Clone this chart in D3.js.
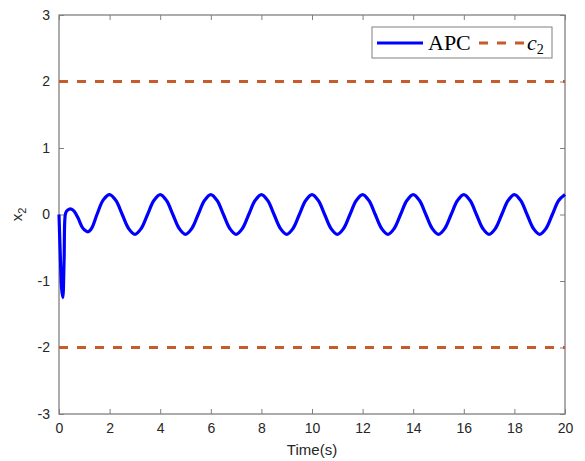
<!DOCTYPE html>
<html>
<head>
<meta charset="utf-8">
<script src="https://d3js.org/d3.v7.min.js"></script>
<style>
  body { margin: 0; background: #fff; }
  svg { display: block; }
  .tick text { font-family: Arial, "Liberation Sans", sans-serif; font-size: 14px; fill: #262626; }
</style>
</head>
<body>
<div id="chart"></div>
<script>
// values
var xTicks = [0, 2, 4, 6, 8, 10, 12, 14, 16, 18, 20];
var yTicks = [-3, -2, -1, 0, 1, 2, 3];
var boundUpper = 2, boundLower = -2;

// APC response, start-up transient
var tStart = [0, 0.05, 0.1, 0.15, 0.2, 0.25, 0.3, 0.4, 0.5, 0.6, 0.75, 0.9, 1.0, 1.15, 1.3, 1.5, 1.75, 2.0];
var xStart = [0, -0.6, -1.1, -1.25, -0.7, 0.0, 0.05, 0.08, 0.08, 0.05, -0.05, -0.18, -0.23, -0.26, -0.2, 0.0, 0.22, 0.3];

// APC response, steady oscillation (every 0.25 s from 2.25 to 20)
var tSteady = [2.25, 2.5, 2.75, 3.0, 3.25, 3.5, 3.75, 4.0, 4.25, 4.5, 4.75, 5.0, 5.25, 5.5, 5.75, 6.0,
  6.25, 6.5, 6.75, 7.0, 7.25, 7.5, 7.75, 8.0, 8.25, 8.5, 8.75, 9.0, 9.25, 9.5, 9.75, 10.0,
  10.25, 10.5, 10.75, 11.0, 11.25, 11.5, 11.75, 12.0, 12.25, 12.5, 12.75, 13.0, 13.25, 13.5, 13.75, 14.0,
  14.25, 14.5, 14.75, 15.0, 15.25, 15.5, 15.75, 16.0, 16.25, 16.5, 16.75, 17.0, 17.25, 17.5, 17.75, 18.0,
  18.25, 18.5, 18.75, 19.0, 19.25, 19.5, 19.75, 20.0];
var xSteady = [0.21, 0.0, -0.21, -0.3, -0.21, 0.0, 0.21, 0.3, 0.21, 0.0, -0.21, -0.3, -0.21, 0.0, 0.21, 0.3,
  0.21, 0.0, -0.21, -0.3, -0.21, 0.0, 0.21, 0.3, 0.21, 0.0, -0.21, -0.3, -0.21, 0.0, 0.21, 0.3,
  0.21, 0.0, -0.21, -0.3, -0.21, 0.0, 0.21, 0.3, 0.21, 0.0, -0.21, -0.3, -0.21, 0.0, 0.21, 0.3,
  0.21, 0.0, -0.21, -0.3, -0.21, 0.0, 0.21, 0.3, 0.21, 0.0, -0.21, -0.3, -0.21, 0.0, 0.21, 0.3,
  0.21, 0.0, -0.21, -0.3, -0.21, 0.0, 0.21, 0.3];

var W = 585, H = 461;
var margin = {top: 15, right: 20, bottom: 47, left: 59},
    width = W - margin.left - margin.right,
    height = H - margin.top - margin.bottom;

var svg = d3.select("#chart").append("svg")
    .attr("width", W).attr("height", H)
  .append("g")
    .attr("transform", "translate(" + margin.left + "," + margin.top + ")");

var x = d3.scaleLinear().domain([0, 20]).range([0, width]);
var y = d3.scaleLinear().domain([-3, 3]).range([height, 0]);

var axisColor = "#808080";
var plainFmt = function(d) { return String(d); };   // hyphen minus like the original

function styleAxis(g) {
  g.select(".domain").remove();
  g.selectAll(".tick line").attr("stroke", axisColor);
}

// bottom / left with labels, top / right ticks only
svg.append("g").attr("transform", "translate(0," + height + ")")
  .call(d3.axisBottom(x).tickValues(xTicks).tickSize(-5).tickPadding(9).tickFormat(plainFmt))
  .call(styleAxis);
svg.append("g")
  .call(d3.axisLeft(y).tickValues(yTicks).tickSize(-5).tickPadding(9).tickFormat(plainFmt))
  .call(styleAxis);
svg.append("g")
  .call(d3.axisTop(x).tickValues(xTicks).tickSize(-5).tickFormat(""))
  .call(styleAxis);
svg.append("g").attr("transform", "translate(" + width + ",0)")
  .call(d3.axisRight(y).tickValues(yTicks).tickSize(-5).tickFormat(""))
  .call(styleAxis);

svg.append("rect")
  .attr("width", width).attr("height", height)
  .attr("fill", "none").attr("stroke", axisColor).attr("stroke-width", 1.3);

// bounds
var orange = "#C65B2B";
[boundUpper, boundLower].forEach(function(b) {
  svg.append("line")
    .attr("x1", x(0)).attr("x2", x(20))
    .attr("y1", y(b)).attr("y2", y(b))
    .attr("stroke", orange).attr("stroke-width", 3)
    .attr("stroke-dasharray", "9,9");
});

// APC curve
var pts = tStart.map(function(t, i) { return [t, xStart[i]]; })
  .concat(tSteady.map(function(t, i) { return [t, xSteady[i]]; }));

var line = d3.line()
  .x(function(d) { return x(d[0]); })
  .y(function(d) { return y(d[1]); })
  .curve(d3.curveCatmullRom.alpha(0.5));

svg.append("path")
  .datum(pts)
  .attr("fill", "none")
  .attr("stroke", "#0000FF")
  .attr("stroke-width", 3.2)
  .attr("stroke-linejoin", "round")
  .attr("d", line);

// axis labels
svg.append("text")
  .attr("x", width / 2).attr("y", height + 41)
  .attr("text-anchor", "middle")
  .style("font-family", "Arial, 'Liberation Sans', sans-serif")
  .style("font-size", "15px").style("fill", "#262626")
  .text("Time(s)");

var yl = svg.append("text")
  .attr("transform", "translate(-37," + y(0) + ") rotate(-90)")
  .attr("text-anchor", "middle")
  .style("font-family", "Arial, 'Liberation Sans', sans-serif")
  .style("font-size", "15px").style("fill", "#262626");
yl.append("tspan").text("x");
yl.append("tspan").attr("dy", 4).style("font-size", "11px").text("2");

// legend
var lg = svg.append("g").attr("transform", "translate(" + (372 - margin.left) + "," + (27 - margin.top) + ")");
lg.append("rect").attr("width", 180).attr("height", 31)
  .attr("fill", "#fff").attr("stroke", "#808080").attr("stroke-width", 1);
lg.append("line").attr("x1", 5).attr("x2", 51).attr("y1", 16).attr("y2", 16)
  .attr("stroke", "#0000FF").attr("stroke-width", 3.2);
lg.append("text").attr("x", 56).attr("y", 23)
  .style("font-family", "'Liberation Serif', 'DejaVu Serif', serif")
  .style("font-size", "22px").style("fill", "#000")
  .text("APC");
lg.append("line").attr("x1", 107).attr("x2", 153).attr("y1", 16).attr("y2", 16)
  .attr("stroke", orange).attr("stroke-width", 3).attr("stroke-dasharray", "9,9");
var lt = lg.append("text").attr("x", 155).attr("y", 23)
  .style("font-family", "'Liberation Serif', 'DejaVu Serif', serif")
  .style("font-size", "22px").style("fill", "#000");
lt.append("tspan").style("font-style", "italic").text("c");
lt.append("tspan").attr("dy", 4).style("font-size", "14px").text("2");
</script>
</body>
</html>
